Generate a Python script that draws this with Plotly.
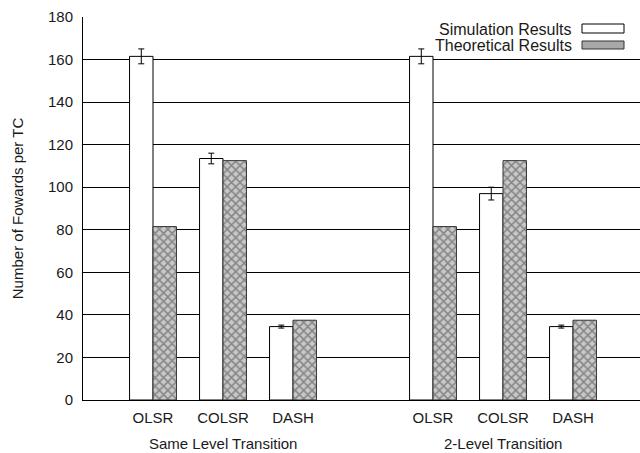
import plotly.graph_objects as go

categories = ["OLSR", "COLSR", "DASH", "OLSR", "COLSR", "DASH"]
positions = [0, 1, 2, 4, 5, 6]
sim_values = [161.5, 113.5, 34.5, 161.5, 97.0, 34.5]
sim_errors = [3.5, 2.5, 0.7, 3.5, 3.0, 0.7]
theo_values = [81.5, 112.5, 37.5, 81.5, 112.5, 37.5]
group_labels = ["Same Level Transition", "2-Level Transition"]
group_centers = [1, 5]
y_ticks = [0, 20, 40, 60, 80, 100, 120, 140, 160, 180]

W, H = 640, 453
L, R, T, B = 83, 0, 17, 53
pw, ph = W - L - R, H - T - B

def px(x):
    return (x - L) / pw

def py(y):
    return (H - B - y) / ph

FONT = "Liberation Sans, Arial, sans-serif"
TXT = "#1a1a1a"

fig = go.Figure()
fig.add_trace(go.Bar(
    x=positions, y=sim_values, name="Simulation Results",
    marker=dict(color="white", line=dict(color="black", width=1)),
    error_y=dict(type="data", array=sim_errors, visible=True,
                 color="black", thickness=1, width=3),
))
fig.add_trace(go.Bar(
    x=positions, y=theo_values, name="Theoretical Results",
    marker=dict(color="#bbbbbb", line=dict(color="#333", width=1),
                pattern=dict(shape="x", fgcolor="#444", bgcolor="#c8c8c8",
                             size=6, solidity=0.45)),
))

shapes = [
    dict(type="rect", xref="paper", yref="paper", layer="between",
         x0=px(440), x1=px(634), y0=py(112), y1=1.0,
         fillcolor="white", line=dict(width=0)),
    dict(type="rect", xref="paper", yref="paper",
         x0=px(582), x1=px(624), y0=py(33), y1=py(24),
         fillcolor="white", line=dict(color="black", width=1)),
    dict(type="rect", xref="paper", yref="paper",
         x0=px(582), x1=px(624), y0=py(49), y1=py(41),
         fillcolor="#a8a8a8", line=dict(color="#333", width=1)),
]

annotations = [
    dict(text="Simulation Results", xref="paper", yref="paper",
         x=px(574), y=py(29), xanchor="right", yanchor="middle",
         showarrow=False, font=dict(size=16, color=TXT, family=FONT)),
    dict(text="Theoretical Results", xref="paper", yref="paper",
         x=px(574), y=py(45), xanchor="right", yanchor="middle",
         showarrow=False, font=dict(size=16, color=TXT, family=FONT)),
]
for lab, c in zip(group_labels, group_centers):
    annotations.append(dict(text=lab, xref="x", yref="paper", x=c, y=py(443),
                            xanchor="center", yanchor="middle", showarrow=False,
                            font=dict(size=15, color=TXT, family=FONT)))

x_right = -1 + (W - L - R) / 70.0

fig.update_layout(
    width=W, height=H,
    margin=dict(l=L, r=R, t=T, b=B, autoexpand=False),
    paper_bgcolor="white", plot_bgcolor="white",
    barmode="group", bargap=0.33, bargroupgap=0,
    showlegend=False,
    font=dict(family=FONT, size=15, color=TXT),
    shapes=shapes, annotations=annotations,
    xaxis=dict(range=[-1, x_right], tickvals=positions, ticktext=categories,
               showgrid=False, showline=True, linecolor="black", linewidth=1,
               mirror=False, ticks="", zeroline=False, ticklabelstandoff=4,
               tickfont=dict(size=15, family=FONT, color=TXT)),
    yaxis=dict(range=[0, 180], tickvals=y_ticks, showgrid=True,
               gridcolor="black", gridwidth=1, showline=True,
               linecolor="black", linewidth=1, ticks="", zeroline=False,
               ticklabelstandoff=6,
               tickfont=dict(size=15, family=FONT, color=TXT),
               title=dict(text="Number of Fowards per TC", standoff=20,
                          font=dict(size=15, family=FONT, color=TXT))),
)
fig.write_html("out.html")
